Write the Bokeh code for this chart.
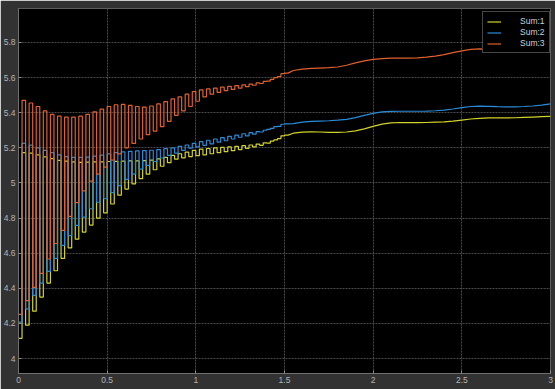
import numpy as np
from bokeh.plotting import figure
from bokeh.models import Range1d, Legend, LegendItem, FixedTicker, NumeralTickFormatter
from bokeh.embed import file_html
from bokeh.resources import INLINE

# ---------------- data ----------------
series_names = ["Sum:1", "Sum:2", "Sum:3"]

# start time of each switching cycle (low half first, then high half)
cycle_t = [0.00, 0.04, 0.08, 0.12, 0.16, 0.20, 0.24, 0.28, 0.32, 0.36,
           0.40, 0.44, 0.48, 0.52, 0.56, 0.60, 0.64, 0.68, 0.72, 0.76,
           0.80, 0.84, 0.88, 0.92, 0.96, 1.00, 1.04, 1.08, 1.12, 1.16,
           1.20, 1.24, 1.28, 1.32, 1.36, 1.40, 1.44, 1.48]

sum1_lo = [4.115, 4.19, 4.27, 4.35, 4.43, 4.50, 4.57, 4.63, 4.68, 4.72,
           4.76, 4.80, 4.83, 4.88, 4.93, 4.965, 4.995, 5.025, 5.05, 5.075,
           5.095, 5.115, 5.135, 5.143, 5.15, 5.155, 5.16, 5.166, 5.172, 5.178,
           5.184, 5.19, 5.197, 5.205, 5.214, 5.226, 5.245, 5.268]
sum1_hi = [5.172, 5.170, 5.160, 5.148, 5.138, 5.128, 5.124, 5.120, 5.117, 5.118,
           5.120, 5.120, 5.122, 5.123, 5.124, 5.125, 5.125, 5.127, 5.130, 5.137,
           5.146, 5.157, 5.166, 5.175, 5.185, 5.192, 5.196, 5.199, 5.202, 5.205,
           5.208, 5.212, 5.216, 5.221, 5.228, 5.238, 5.252, 5.272]

sum2_lo = [4.207, 4.283, 4.36, 4.43, 4.496, 4.57, 4.644, 4.70, 4.758, 4.805,
           4.853, 4.89, 4.91, 4.945, 4.985, 5.02, 5.05, 5.078, 5.10, 5.122,
           5.142, 5.157, 5.17, 5.185, 5.198, 5.205, 5.214, 5.222, 5.232, 5.24,
           5.25, 5.26, 5.268, 5.278, 5.29, 5.305, 5.32, 5.334]
sum2_hi = [5.225, 5.215, 5.200, 5.185, 5.172, 5.160, 5.150, 5.145, 5.145, 5.147,
           5.152, 5.158, 5.165, 5.172, 5.177, 5.180, 5.182, 5.184, 5.186, 5.190,
           5.195, 5.200, 5.208, 5.216, 5.225, 5.235, 5.243, 5.250, 5.258, 5.265,
           5.272, 5.280, 5.286, 5.292, 5.300, 5.310, 5.322, 5.336]

sum3_lo = [4.252, 4.33, 4.405, 4.485, 4.567, 4.655, 4.73, 4.81, 4.888, 4.955,
           5.01, 5.05, 5.09, 5.13, 5.165, 5.20, 5.225, 5.25, 5.275, 5.295,
           5.32, 5.35, 5.385, 5.41, 5.435, 5.465, 5.49, 5.505, 5.515, 5.525,
           5.532, 5.54, 5.548, 5.556, 5.566, 5.58, 5.60, 5.622]
sum3_hi = [5.470, 5.455, 5.435, 5.410, 5.390, 5.380, 5.375, 5.375, 5.380, 5.390,
           5.405, 5.420, 5.435, 5.445, 5.447, 5.442, 5.435, 5.432, 5.438, 5.450,
           5.463, 5.478, 5.490, 5.505, 5.520, 5.530, 5.535, 5.540, 5.545, 5.550,
           5.554, 5.558, 5.563, 5.570, 5.578, 5.590, 5.605, 5.625]

# smooth part after the ripple has died out
smooth_t = [1.55, 1.60, 1.65, 1.70, 1.75, 1.80, 1.85, 1.90, 1.95, 2.00,
            2.05, 2.10, 2.15, 2.20, 2.25, 2.30, 2.35, 2.40, 2.45, 2.50,
            2.55, 2.60, 2.65, 2.70, 2.75, 2.80, 2.85, 2.90, 2.95, 3.00]
sum1_s = [5.283, 5.289, 5.291, 5.290, 5.288, 5.288, 5.290, 5.296, 5.308, 5.322,
          5.335, 5.342, 5.344, 5.343, 5.343, 5.344, 5.346, 5.348, 5.352, 5.358,
          5.364, 5.368, 5.370, 5.370, 5.370, 5.371, 5.373, 5.375, 5.377, 5.379]
sum2_s = [5.338, 5.346, 5.350, 5.352, 5.354, 5.357, 5.362, 5.372, 5.385, 5.396,
          5.404, 5.407, 5.408, 5.408, 5.408, 5.409, 5.411, 5.414, 5.421, 5.429,
          5.435, 5.437, 5.436, 5.434, 5.433, 5.433, 5.435, 5.438, 5.443, 5.450]
sum3_s = [5.640, 5.648, 5.652, 5.654, 5.656, 5.660, 5.670, 5.683, 5.695, 5.703,
          5.708, 5.710, 5.710, 5.710, 5.712, 5.716, 5.722, 5.730, 5.742, 5.752,
          5.760, 5.763, 5.762, 5.758, 5.755, 5.756, 5.760, 5.766, 5.775, 5.785]

x_ticks = [0, 0.5, 1, 1.5, 2, 2.5, 3]
y_ticks = [4, 4.2, 4.4, 4.6, 4.8, 5, 5.2, 5.4, 5.6, 5.8]

colors = ["#d2d22a", "#2a8bd8", "#e0602e"]

# ---------------- build step paths ----------------
HALF = 0.02


def build(lo, hi, st, sv):
    xs, ys = [], []
    for t0, l, h in zip(cycle_t, lo, hi):
        xs += [t0, t0 + HALF, t0 + HALF, t0 + 2 * HALF]
        ys += [l, l, h, h]
    xs += list(smooth_t)
    ys += list(sv)
    return xs, ys


paths = [build(sum1_lo, sum1_hi, smooth_t, sum1_s),
         build(sum2_lo, sum2_hi, smooth_t, sum2_s),
         build(sum3_lo, sum3_hi, smooth_t, sum3_s)]

# ---------------- figure ----------------
p = figure(width=555, height=389, output_backend="svg", toolbar_location=None,
           x_range=Range1d(0, 3), y_range=Range1d(3.915, 5.993),
           min_border_left=16, min_border_right=5, min_border_top=8,
           min_border_bottom=16)
p.background_fill_color = "black"
p.border_fill_color = "#323232"
p.outline_line_color = "#5e5e5e"

for g in (p.xgrid, p.ygrid):
    g.grid_line_color = "#4a4a4a"
    g.grid_line_dash = "2 1"
    g.grid_line_width = 1
p.xgrid.ticker = FixedTicker(ticks=x_ticks)
p.ygrid.ticker = FixedTicker(ticks=y_ticks)

for ax, ticks, stand in ((p.xaxis[0], x_ticks, 3), (p.yaxis[0], y_ticks, 3)):
    ax.ticker = FixedTicker(ticks=ticks)
    ax.formatter = NumeralTickFormatter(format="0.[0]")
    ax.major_tick_in = 3
    ax.major_tick_out = 0
    ax.minor_tick_line_color = None
    ax.major_tick_line_color = "#8a8a8a"
    ax.axis_line_color = "#707070"
    ax.major_label_text_color = "#b4b4b4"
    ax.major_label_text_font = "Liberation Sans"
    ax.major_label_text_font_size = "8.5px"
    ax.major_label_standoff = stand

renderers = []
for (xs, ys), c in zip(paths, colors):
    r = p.line(xs, ys, line_color=c, line_width=1.2)
    renderers.append(r)

legend = Legend(items=[LegendItem(label=n, renderers=[r]) for n, r in zip(series_names, renderers)],
                location=(464, 320))
legend.background_fill_color = "black"
legend.background_fill_alpha = 1.0
legend.border_line_color = "#8c8c8c"
legend.border_line_width = 1
legend.label_text_color = "#d0d0d0"
legend.label_text_font = "Liberation Sans"
legend.label_text_font_size = "8.5px"
legend.glyph_width = 14
legend.glyph_height = 9
legend.label_height = 9
legend.label_standoff = 19
legend.spacing = 1
legend.padding = 4
legend.margin = 0
p.add_layout(legend)

open("out.html", "w").write(file_html(p, INLINE))
